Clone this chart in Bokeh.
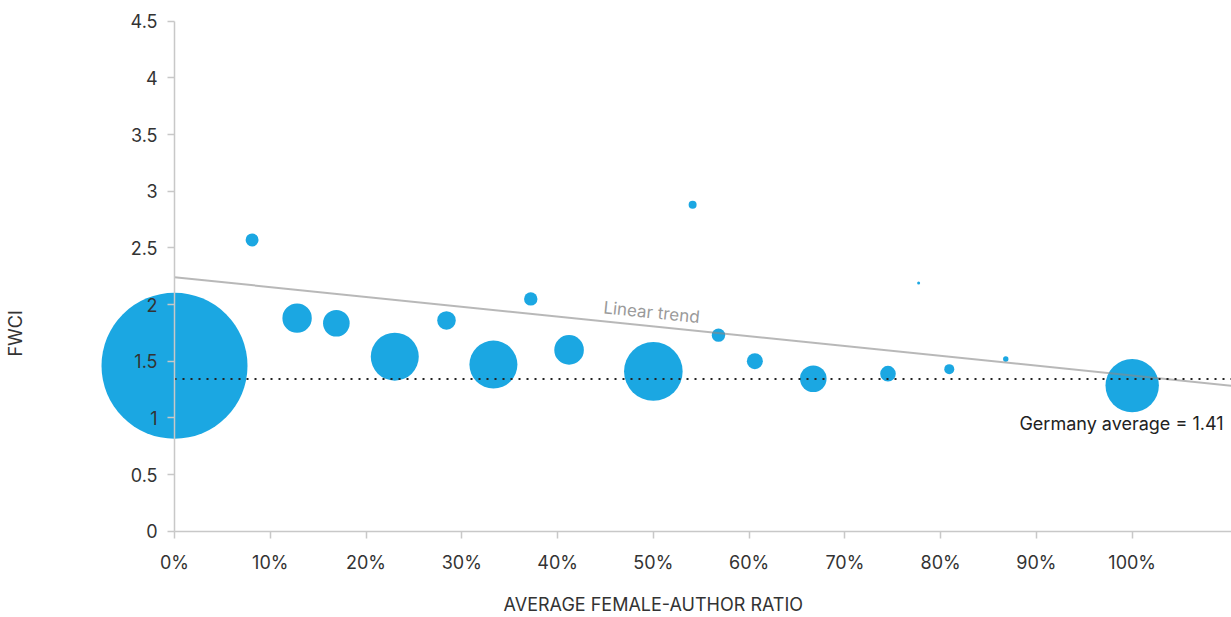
import numpy as np
from bokeh.plotting import figure
from bokeh.models import Range1d, Label, FixedTicker, ColumnDataSource
from bokeh.embed import file_html
from bokeh.resources import INLINE

# ---- data ----
ratio = [0, 8.1, 12.8, 16.9, 23.0, 28.4, 33.3, 37.2, 41.2, 50.0, 54.1, 56.8,
         60.6, 66.7, 74.5, 77.7, 80.9, 86.8, 100.0]
fwci = [1.46, 2.57, 1.88, 1.835, 1.54, 1.86, 1.47, 2.05, 1.60, 1.41, 2.88, 1.73,
        1.50, 1.345, 1.39, 2.19, 1.43, 1.52, 1.285]
publications = [5329, 42, 216, 177, 576, 86, 576, 45, 219, 858, 16, 45,
                64, 177, 61, 2.25, 25, 7.3, 713]

x_ticks = [0, 10, 20, 30, 40, 50, 60, 70, 80, 90, 100]
x_tick_labels = ["0%", "10%", "20%", "30%", "40%", "50%", "60%", "70%", "80%", "90%", "100%"]
y_ticks = [0, 0.5, 1, 1.5, 2, 2.5, 3, 3.5, 4, 4.5]
y_tick_labels = ["0", "0.5", "1", "1.5", "2", "2.5", "3", "3.5", "4", "4.5"]

trend_intercept = 2.241
trend_slope = -0.00867
germany_avg = 1.343
germany_text = "Germany average = 1.41"
x_title = "AVERAGE FEMALE-AUTHOR RATIO"
y_title = "FWCI"

# view window (the plotting frame covers the whole canvas; axes sit at 0)
x_start, x_end = -18.17, 110.37
y_start, y_end = -0.7615, 4.683
y_axis_top = 4.5

FONT = "Inter"
TXT = "#333333"
AXC = "#c8c8c8"
BLUE = "#1ba7e2"

p = figure(width=1231, height=617,
           x_range=Range1d(x_start, x_end), y_range=Range1d(y_start, y_end),
           output_backend="svg", toolbar_location=None,
           min_border_left=0, min_border_right=0, min_border_top=0, min_border_bottom=0)
p.outline_line_color = None
p.xgrid.visible = False
p.ygrid.visible = False
p.background_fill_color = "white"
p.border_fill_color = "white"

# bubbles (diameter from sqrt of publication count)
size = 2 * np.sqrt(np.array(publications, dtype=float))
src = ColumnDataSource(dict(x=ratio, y=fwci, s=size))
p.scatter("x", "y", size="s", source=src, marker="circle",
          fill_color=BLUE, line_color=None)

# trend line
tx = np.array([0, x_end])
p.line(tx, trend_intercept + trend_slope * tx, line_color="#888888",
       line_alpha=0.6, line_width=2)

# Germany average
p.line([0, x_end], [germany_avg, germany_avg], line_color="#222222",
       line_width=2, line_dash="2 6")

# axes
for ax in (p.xaxis[0], p.yaxis[0]):
    ax.axis_line_color = AXC
    ax.axis_line_width = 1.5
    ax.major_tick_line_color = AXC
    ax.major_tick_line_width = 1.5
    ax.major_tick_out = 7
    ax.major_tick_in = 0
    ax.minor_tick_line_color = None
    ax.major_label_text_font = FONT
    ax.major_label_text_font_size = "18px"
    ax.major_label_text_color = TXT
    ax.fixed_location = 0

p.xaxis.ticker = FixedTicker(ticks=x_ticks)
p.xaxis.major_label_overrides = dict(zip(x_ticks, x_tick_labels))
p.xaxis.bounds = (0, x_end)
p.xaxis.major_label_standoff = 14

p.yaxis.ticker = FixedTicker(ticks=y_ticks)
p.yaxis.major_label_overrides = dict(zip(y_ticks, y_tick_labels))
p.yaxis.bounds = (0, y_axis_top)
p.yaxis.major_label_standoff = 10

# annotations
p.add_layout(Label(x=44.8, y=trend_intercept + trend_slope * 44.8, y_offset=14,
                   text="Linear trend", angle=-0.102, text_font=FONT,
                   text_font_size="17px", text_color="#9a9a9a",
                   text_baseline="alphabetic", text_align="left"))
p.add_layout(Label(x=x_end, x_offset=-8, y=germany_avg, y_offset=-44, text=germany_text,
                   text_font=FONT, text_font_size="18px", text_color="#222222",
                   text_align="right", text_baseline="alphabetic"))
p.add_layout(Label(x=50, x_units="data", y=13, y_units="screen", text=x_title,
                   text_font=FONT, text_font_size="18px", text_color=TXT,
                   text_align="center", text_baseline="middle"))
p.add_layout(Label(x=15, x_units="screen", y=1.745, y_units="data", text=y_title,
                   angle=np.pi / 2, text_font=FONT, text_font_size="18px",
                   text_color=TXT, text_align="center", text_baseline="middle"))

open("out.html", "w").write(file_html(p, INLINE))
